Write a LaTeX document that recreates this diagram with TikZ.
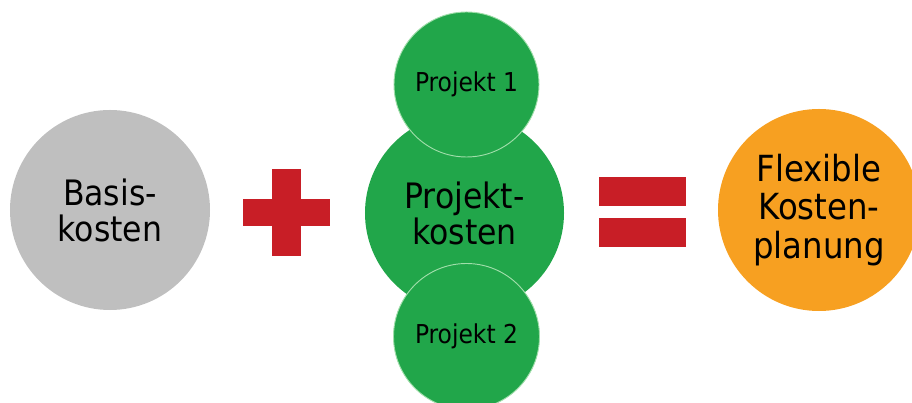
\documentclass[tikz,border=0pt]{standalone}
\usepackage{fontspec}
\setmainfont{DejaVu Sans Condensed}
\usepackage{tikz}
\definecolor{basisgrau}{RGB}{191,191,191}
\definecolor{projektgruen}{RGB}{33,166,74}
\definecolor{planorange}{RGB}{247,160,33}
\definecolor{zeichenrot}{RGB}{200,30,38}
\definecolor{randgruen}{RGB}{160,222,170}
\newcommand{\tikzPlaceBar}[2]{\fill[zeichenrot] #1 rectangle #2}

\begin{document}
\begin{tikzpicture}[x = 0.03cm, y = -0.03cm,
    kreis/.style = {circle, inner sep = 0pt, align = center, text = black},
    grossschrift/.style = {font = \fontsize{29.9}{30.7}\selectfont},
    kleinschrift/.style = {font = \fontsize{22.2}{24}\selectfont}]
                        \useasboundingbox (0,0) rectangle (912,403);
                        \clip (0,0) rectangle (912,403);
                        \node[kreis, grossschrift, fill = basisgrau, minimum size = 6cm] (basis) at (110,210) {Basis-\\kosten};
                        \tikzPlaceBar{(243,199)}{(330,226)};
                        \tikzPlaceBar{(272,169)}{(301,256)};
                        \node[kreis, grossschrift, fill = projektgruen, minimum size = 5.97cm] (projekt) at (464.5,213) {Projekt-\\kosten};
                        \node[kreis, kleinschrift, fill = projektgruen, draw = randgruen, line width = 0.8pt, minimum size = 4.35cm] (projekt1) at (466.5,84.5) {Projekt 1};
                        \node[kreis, kleinschrift, fill = projektgruen, draw = randgruen, line width = 0.8pt, minimum size = 4.38cm] (projekt2) at (466.5,336.5) {Projekt 2};
                        \foreach \yOffset in {177,218}{
                            \tikzPlaceBar{(599,\yOffset)}{(686,\yOffset+29)};
                          }
                        \node[kreis, font = \fontsize{30.7}{32.9}\selectfont, fill = planorange, minimum size = 6.06cm] (planung) at (819,210) {Flexible\\Kosten-\\planung};
                      \end{tikzpicture}
\end{document}
